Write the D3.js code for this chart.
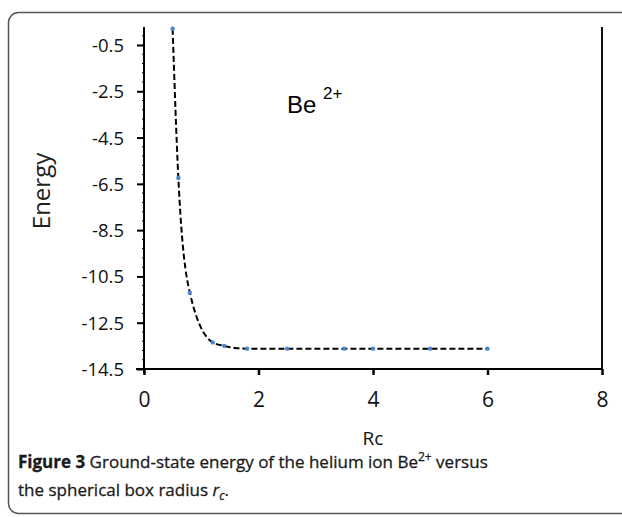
<!DOCTYPE html>
<html><head><meta charset="utf-8">
<script src="https://cdn.jsdelivr.net/npm/d3@7"></script>
<style>html,body{margin:0;padding:0;background:#fff;overflow:hidden}</style>
</head><body>
<svg id="c" width="622" height="517"></svg>
<script>
const rc = [0.5, 0.6, 0.8, 1.2, 1.4, 1.8, 2.5, 3.5, 4, 5, 6];
const energy = [0.2, -6.25, -11.2, -13.35, -13.5, -13.62, -13.62, -13.62, -13.62, -13.62, -13.62];
const xTicks = [0, 2, 4, 6, 8];
const yTicks = [-0.5, -2.5, -4.5, -6.5, -8.5, -10.5, -12.5, -14.5];

const svg = d3.select("#c");
// outer frame
svg.append("rect").attr("x", 8.5).attr("y", 12.5).attr("width", 640).attr("height", 501)
  .attr("rx", 10).attr("fill", "none").attr("stroke", "#555").attr("stroke-width", 1.5);

const x = d3.scaleLinear().domain([0, 8]).range([144, 602]);
const y = d3.scaleLinear().domain([-14.5, -0.5]).range([369, 45]);
const yTop = 27;

const font = "'Open Sans', 'Noto Sans', sans-serif";

// minor ticks on y axis
const minor = d3.range(-14.5, 0.2, 0.4);
svg.append("g").selectAll("line").data(minor).join("line")
  .attr("x1", x(0) - 2).attr("x2", x(0)).attr("y1", d => y(d)).attr("y2", d => y(d))
  .attr("stroke", "#000").attr("stroke-width", 1);

// y axis
const yAxis = svg.append("g").attr("transform", `translate(${x(0)},0)`)
  .call(d3.axisLeft(y).tickValues(yTicks).tickSize(7).tickPadding(13).tickFormat(d => d.toFixed(1)));
yAxis.select(".domain").remove();
yAxis.append("line").attr("x1", 0).attr("x2", 0).attr("y1", yTop).attr("y2", y(-14.5) + 4)
  .attr("stroke", "#000").attr("stroke-width", 2);
yAxis.selectAll(".tick line").attr("stroke-width", 2);
yAxis.selectAll(".tick text").attr("font-family", font).attr("font-size", 18.5).attr("fill", "#111")
  .attr("dy", "0.35em");

// right border
svg.append("line").attr("x1", x(8)).attr("x2", x(8)).attr("y1", yTop).attr("y2", y(-14.5))
  .attr("stroke", "#111").attr("stroke-width", 2);

// x axis
const xAxis = svg.append("g").attr("transform", `translate(0,${y(-14.5)})`)
  .call(d3.axisBottom(x).tickValues(xTicks).tickSize(6).tickPadding(17).tickFormat(d3.format("d")));
xAxis.select(".domain").attr("stroke-width", 2.2).attr("d", `M${x(0) - 8},0H${x(8)}`);
xAxis.selectAll(".tick line").attr("stroke-width", 2.5);
xAxis.selectAll(".tick text").attr("font-family", font).attr("font-size", 21).attr("fill", "#111");

// line
const pts = rc.map((r, i) => [r, energy[i]]);
svg.append("path").datum(pts)
  .attr("d", d3.line().x(d => x(d[0])).y(d => y(d[1])).curve(d3.curveMonotoneX))
  .attr("fill", "none").attr("stroke", "#000").attr("stroke-width", 2).attr("stroke-dasharray", "6,3");
svg.append("g").selectAll("circle").data(pts).join("circle")
  .attr("cx", d => x(d[0])).attr("cy", d => y(d[1])).attr("r", 2.2).attr("fill", "#4a86d0");

// annotation
const be = svg.append("text").attr("x", 287).attr("y", 113).attr("font-family", "'Liberation Sans', Arial, sans-serif")
  .attr("font-size", 24).attr("fill", "#000");
be.append("tspan").text("Be ");
be.append("tspan").attr("dy", -14).attr("font-size", 17).text("2+");

// axis titles
svg.append("text").attr("transform", "translate(50,191) rotate(-90)").attr("text-anchor", "middle")
  .attr("font-family", font).attr("font-size", 24).attr("fill", "#222").text("Energy");
svg.append("text").attr("x", 373).attr("y", 445).attr("text-anchor", "middle")
  .attr("font-family", font).attr("font-size", 19).attr("fill", "#111").text("Rc");

// caption
const cap1 = svg.append("text").attr("x", 18).attr("y", 468).attr("font-family", font)
  .attr("font-size", 17).attr("fill", "#1a1a1a").attr("stroke", "#1a1a1a").attr("stroke-width", 0.3);
cap1.append("tspan").attr("font-weight", "bold").text("Figure 3");
cap1.append("tspan").text(" Ground-state energy of the helium ion Be");
cap1.append("tspan").attr("dy", -7).attr("font-size", 12).text("2+");
cap1.append("tspan").attr("dy", 7).text(" versus");
const cap2 = svg.append("text").attr("x", 18).attr("y", 496).attr("font-family", font)
  .attr("font-size", 17).attr("fill", "#1a1a1a").attr("stroke", "#1a1a1a").attr("stroke-width", 0.3);
cap2.append("tspan").text("the spherical box radius ");
cap2.append("tspan").attr("font-style", "italic").text("r");
cap2.append("tspan").attr("font-style", "italic").attr("dy", 4).attr("font-size", 12).text("c");
cap2.append("tspan").attr("dy", -4).text(".");
</script>
</body></html>
